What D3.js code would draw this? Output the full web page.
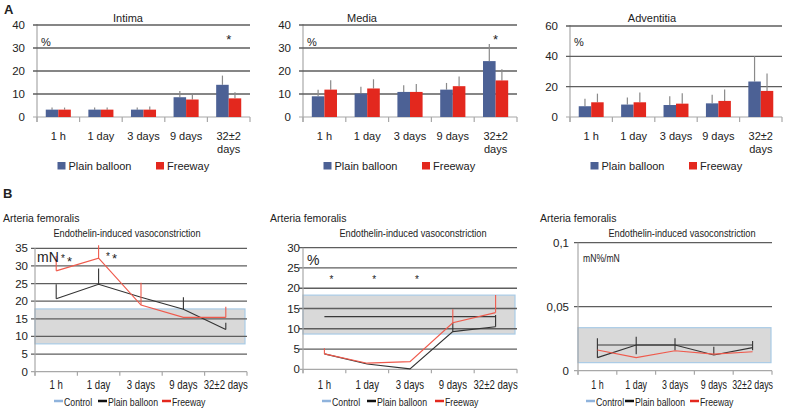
<!DOCTYPE html>
<html><head><meta charset="utf-8">
<script src="https://cdn.jsdelivr.net/npm/d3@7"></script>
<style>
body{margin:0;background:#fff}
text{font-family:"Liberation Sans",Arial,sans-serif;fill:#222}
</style></head><body>
<svg id="c" width="785" height="412"></svg>
<script>
// ---------- DATA ----------
const categories = ["1 h", "1 day", "3 days", "9 days", "32±2 days"];
const seriesNames = ["Plain balloon", "Freeway"];
const lineSeriesNames = ["Control", "Plain balloon", "Freeway"];

// Panel A – bars (% values) and error bar tops
const intimaPlain    = [3.2, 3.2, 3.2, 8.6, 14.0];
const intimaPlainErr = [4.1, 4.1, 4.1, 11.3, 18.0];
const intimaFree     = [3.2, 3.2, 3.2, 7.6, 8.1];
const intimaFreeErr  = [4.1, 4.1, 4.6, 9.7, 10.8];

const mediaPlain    = [9.0, 10.2, 10.9, 11.9, 24.3];
const mediaPlainErr = [11.9, 13.1, 13.8, 14.8, 31.7];
const mediaFree     = [11.9, 12.4, 10.9, 13.4, 15.9];
const mediaFreeErr  = [16.0, 16.4, 14.3, 17.6, 20.8];

const adventPlain    = [7.1, 8.2, 7.9, 9.0, 23.4];
const adventPlainErr = [12.1, 12.8, 13.7, 14.6, 40.1];
const adventFree     = [9.7, 9.7, 8.8, 10.6, 17.2];
const adventFreeErr  = [15.4, 16.1, 15.7, 18.1, 28.7];

const ticksA40 = [0, 10, 20, 30, 40];
const ticksA60 = [0, 20, 40, 60];

// Panel B – lines
const mnPlain     = [20.7, 24.8, 21.1, 17.7, 12.0];
const mnPlainErr  = [24.8, 29.3, null, 21.1, 13.9];
const mnFree      = [28.6, 32.2, 18.9, 15.4, 15.4];
const mnFreeErr   = [32.8, 35.9, 25.2, null, 18.4];
const mnControlBand = [7.9, 17.8];
const ticksMN = [0, 5, 10, 15, 20, 25, 30, 35];

const pctPlain     = [3.8, 1.3, 0.1, 9.3, 10.5];
const pctPlainErr  = [null, null, null, 11.5, 13.4];
const pctFree      = [3.8, 1.5, 1.9, 11.5, 14.0];
const pctFreeErr   = [5.2, null, null, 14.8, 18.3];
const pctControlMean = 13.0;
const pctControlBand = [8.7, 18.3];
const ticksPct = [0, 5, 10, 15, 20, 25, 30];

const ratioPlain      = [0.0102, 0.0201, 0.0201, 0.0123, 0.018];
const ratioPlainErrLo = [0.0102, 0.0128, 0.016, 0.0123, 0.016];
const ratioPlainErrHi = [0.0253, 0.0266, 0.0253, 0.0188, 0.0232];
const ratioFree       = [0.0162, 0.0102, 0.0156, 0.013, 0.0148];
const ratioControlMean = 0.0201;
const ratioControlBand = [0.0063, 0.0336];
const ticksRatio = [0, 0.05, 0.1];
const ticksRatioLabels = ["0", "0,05", "0,1"];

// ---------- STYLE ----------
const C_PLAIN = "#4c6195", C_FREE = "#e3281e";
const C_LINE_PLAIN = "#333", C_LINE_FREE = "#ef5a4c";
const C_GRID = "#5e5e5e", C_AXIS = "#a8a8a8";
const svg = d3.select("#c");

// condensed text (no narrow font installed): horizontally scaled text
function narrowText(parent, x, y, txt, size, f, anchor) {
  return parent.append("text")
    .attr("transform", `translate(${x},${y}) scale(${f},1)`)
    .attr("text-anchor", anchor || "start").style("font-size", size + "px").text(txt);
}

svg.append("text").attr("x", 4).attr("y", 14).style("font-weight", "bold").style("font-size", "13px").text("A");
svg.append("text").attr("x", 3).attr("y", 198).style("font-weight", "bold").style("font-size", "13px").text("B");

function barPanel(cfg) {
  const g = svg.append("g");
  const x = d3.scaleBand().domain(categories).range([cfg.x0, cfg.x1]);
  const y = d3.scaleLinear().domain([0, cfg.ticks[cfg.ticks.length - 1]]).range([117, cfg.yTop]);
  const inner = d3.scaleBand().domain(seriesNames).range([0, x.bandwidth()]).paddingOuter(0.7);
  g.append("line").attr("x1", cfg.x0).attr("x2", cfg.x0).attr("y1", y.range()[1] - 1).attr("y2", 122).attr("stroke", C_AXIS).attr("stroke-width", 1.2);
  cfg.ticks.forEach(t => {
    if (t > 0) g.append("line").attr("x1", cfg.x0 - 4).attr("x2", cfg.x1).attr("y1", y(t)).attr("y2", y(t)).attr("stroke", C_GRID).attr("stroke-width", 1.4);
    g.append("text").attr("x", cfg.x0 - 12).attr("y", y(t) + 4).attr("text-anchor", "end").style("font-size", "11.5px").text(t);
  });
  g.append("line").attr("x1", cfg.x0 - 4).attr("x2", cfg.x1).attr("y1", y(0)).attr("y2", y(0)).attr("stroke", C_AXIS).attr("stroke-width", 1.2);
  const bounds = categories.map(c => x(c)).concat([cfg.x1]);
  bounds.forEach(b => g.append("line").attr("x1", b).attr("x2", b).attr("y1", y(0)).attr("y2", y(0) + 5).attr("stroke", C_AXIS).attr("stroke-width", 1.2));
  const sets = [[cfg.plain, cfg.plainErr, C_PLAIN], [cfg.free, cfg.freeErr, C_FREE]];
  sets.forEach(([vals, errs, col], si) => {
    const name = seriesNames[si];
    g.selectAll(null).data(categories).enter().append("line")
      .attr("x1", (c) => x(c) + inner(name) + inner.bandwidth() / 2)
      .attr("x2", (c) => x(c) + inner(name) + inner.bandwidth() / 2)
      .attr("y1", (c, i) => y(vals[i])).attr("y2", (c, i) => y(errs[i]))
      .attr("stroke", "#8a8a8a").attr("stroke-width", 1.2);
    g.selectAll(null).data(categories).enter().append("rect")
      .attr("x", c => x(c) + inner(name)).attr("width", inner.bandwidth())
      .attr("y", (c, i) => y(vals[i])).attr("height", (c, i) => y(0) - y(vals[i]))
      .attr("fill", col);
  });
  categories.forEach(c => {
    const t = g.append("text").attr("x", x(c) + x.bandwidth() / 2).attr("y", 140).attr("text-anchor", "middle").style("font-size", "11px");
    if (c.startsWith("32")) {
      const parts = c.split(" ");
      t.append("tspan").attr("x", x(c) + x.bandwidth() / 2).text(parts[0]);
      t.append("tspan").attr("x", x(c) + x.bandwidth() / 2).attr("dy", 12.5).text(parts[1]);
    } else t.text(c);
  });
  g.append("text").attr("x", cfg.titleX).attr("y", 22).attr("text-anchor", "middle").style("font-size", "11px").text(cfg.title);
  g.append("text").attr("x", cfg.x0 + 4).attr("y", 46).style("font-size", "11px").text("%");
  if (cfg.star != null) {
    g.append("text").attr("x", x(categories[cfg.star]) + x.bandwidth() / 2).attr("y", 44).attr("text-anchor", "middle").style("font-size", "13px").text("*");
  }
  const lx = cfg.x0 + 20.5;
  [[0, C_PLAIN], [98.5, C_FREE]].forEach(([off, col], i) => {
    g.append("rect").attr("x", lx + off).attr("y", 162).attr("width", 8).attr("height", 7.5).attr("fill", col);
    g.append("text").attr("x", lx + off + 11).attr("y", 170).style("font-size", "11px").text(seriesNames[i]);
  });
}

barPanel({x0: 37, x1: 250, yTop: 25, ticks: ticksA40, plain: intimaPlain, plainErr: intimaPlainErr, free: intimaFree, freeErr: intimaFreeErr, title: "Intima", titleX: 128, star: 4});
barPanel({x0: 303, x1: 517, yTop: 25, ticks: ticksA40, plain: mediaPlain, plainErr: mediaPlainErr, free: mediaFree, freeErr: mediaFreeErr, title: "Media", titleX: 362, star: 4});
barPanel({x0: 570, x1: 782, yTop: 26, ticks: ticksA60, plain: adventPlain, plainErr: adventPlainErr, free: adventFree, freeErr: adventFreeErr, title: "Adventitia", titleX: 652, star: null});

function linePanel(cfg) {
  const g = svg.append("g");
  const x = d3.scaleBand().domain(categories).range([cfg.x0, cfg.x1]);
  const cx = c => x(c) + x.bandwidth() / 2;
  const y = d3.scaleLinear().domain([0, cfg.ticks[cfg.ticks.length - 1]]).range([cfg.y0, cfg.yTop]);
  g.append("text").attr("x", cfg.titleLeft).attr("y", 222).style("font-size", "10.5px").text("Arteria femoralis");
  narrowText(g, cfg.titleX, 236.5, "Endothelin-induced vasoconstriction", 11.5, 0.8, "middle");
  g.append("rect").attr("x", cfg.x0).attr("width", cfg.bandX1 - cfg.x0)
    .attr("y", y(cfg.band[1])).attr("height", y(cfg.band[0]) - y(cfg.band[1]))
    .attr("fill", "#d9d9d9").attr("stroke", "#a9cbe6").attr("stroke-width", 1.2);
  cfg.ticks.forEach((t, i) => {
    if (t > 0) g.append("line").attr("x1", cfg.x0 - 4).attr("x2", cfg.x1).attr("y1", y(t)).attr("y2", y(t)).attr("stroke", C_GRID).attr("stroke-width", 1.3);
    g.append("text").attr("x", cfg.labelRight).attr("y", y(t) + 4).attr("text-anchor", "end").style("font-size", "11.5px").text(cfg.tickLabels ? cfg.tickLabels[i] : t);
  });
  g.append("line").attr("x1", cfg.x0).attr("x2", cfg.x0).attr("y1", cfg.yTop).attr("y2", cfg.y0 + 4).attr("stroke", C_AXIS).attr("stroke-width", 1.2);
  g.append("line").attr("x1", cfg.x0 - 4).attr("x2", cfg.x1).attr("y1", cfg.y0).attr("y2", cfg.y0).attr("stroke", C_AXIS).attr("stroke-width", 1.2);
  categories.map(c => x(c)).concat([cfg.x1]).forEach(b =>
    g.append("line").attr("x1", b).attr("x2", b).attr("y1", cfg.y0).attr("y2", cfg.y0 + 4).attr("stroke", C_AXIS).attr("stroke-width", 1.2));
  categories.forEach(c => narrowText(g, cx(c), 388.5, c, 12, cfg.labelScale || 0.8, "middle"));
  if (cfg.controlMean != null) {
    g.append("line").attr("x1", cx(categories[0])).attr("x2", cx(categories[4]))
      .attr("y1", y(cfg.controlMean)).attr("y2", y(cfg.controlMean)).attr("stroke", "#3a3a3a").attr("stroke-width", 1.1);
  }
  const line = d3.line().x((d, i) => cx(categories[i])).y(d => y(d));
  const errBars = (lo, hi, col) => categories.forEach((c, i) => {
    if (hi[i] == null) return;
    g.append("line").attr("x1", cx(c)).attr("x2", cx(c)).attr("y1", y(lo[i])).attr("y2", y(hi[i])).attr("stroke", col).attr("stroke-width", 1.1);
  });
  errBars(cfg.plainLo || cfg.plain, cfg.plainErr, C_LINE_PLAIN);
  g.append("path").attr("d", line(cfg.plain)).attr("fill", "none").attr("stroke", C_LINE_PLAIN).attr("stroke-width", 1.1);
  if (cfg.freeErr) errBars(cfg.free, cfg.freeErr, C_LINE_FREE);
  g.append("path").attr("d", line(cfg.free)).attr("fill", "none").attr("stroke", C_LINE_FREE).attr("stroke-width", 1.2);
  const cols = ["#8fb3dc", "#111", C_FREE];
  cfg.legend.forEach((lx, i) => {
    g.append("line").attr("x1", lx).attr("x2", lx + 9).attr("y1", 401).attr("y2", 401).attr("stroke", cols[i]).attr("stroke-width", 2.5);
    narrowText(g, lx + 10, 405.5, lineSeriesNames[i], 11.5, 0.76);
  });
  return {g, x, y, cx};
}

const p1 = linePanel({x0: 35, x1: 247, bandX1: 245, y0: 371.7, yTop: 248.3, ticks: ticksMN, labelRight: 28, band: mnControlBand,
  plain: mnPlain, plainErr: mnPlainErr, free: mnFree, freeErr: mnFreeErr, titleLeft: 3, titleX: 127, legend: [54, 98, 162]});
p1.g.append("text").attr("x", 37).attr("y", 262).style("font-size", "14px").text("mN");
p1.g.append("text").attr("x", 61).attr("y", 262).style("font-size", "10px").text("*");
p1.g.append("text").attr("x", 67).attr("y", 266).style("font-size", "13px").text("*");
p1.g.append("text").attr("x", 106).attr("y", 260).style("font-size", "10px").text("*");
p1.g.append("text").attr("x", 112).attr("y", 263).style("font-size", "13px").text("*");

const p2 = linePanel({x0: 303, x1: 517, bandX1: 515, y0: 369.3, yTop: 247.7, ticks: ticksPct, labelRight: 300, band: pctControlBand,
  controlMean: pctControlMean, plain: pctPlain, plainErr: pctPlainErr, free: pctFree, freeErr: pctFreeErr, titleLeft: 270, titleX: 413, legend: [322, 367, 435]});
p2.g.append("text").attr("x", 307).attr("y", 265).style("font-size", "14px").text("%");
[0, 1, 2].forEach(i => p2.g.append("text").attr("x", p2.cx(categories[i]) + 7).attr("y", 283).attr("text-anchor", "middle").style("font-size", "10px").text("*"));

const p3 = linePanel({x0: 578, x1: 772, bandX1: 771, y0: 370.7, yTop: 242.7, ticks: ticksRatio, tickLabels: ticksRatioLabels, labelRight: 569, band: ratioControlBand,
  controlMean: ratioControlMean, plain: ratioPlain, plainLo: ratioPlainErrLo, plainErr: ratioPlainErrHi, free: ratioFree, freeErr: null, titleLeft: 540, titleX: 682, legend: [586, 625, 690], labelScale: 0.74});
narrowText(p3.g, 583, 262, "mN%/mN", 10.5, 0.82);
</script>
</body></html>
